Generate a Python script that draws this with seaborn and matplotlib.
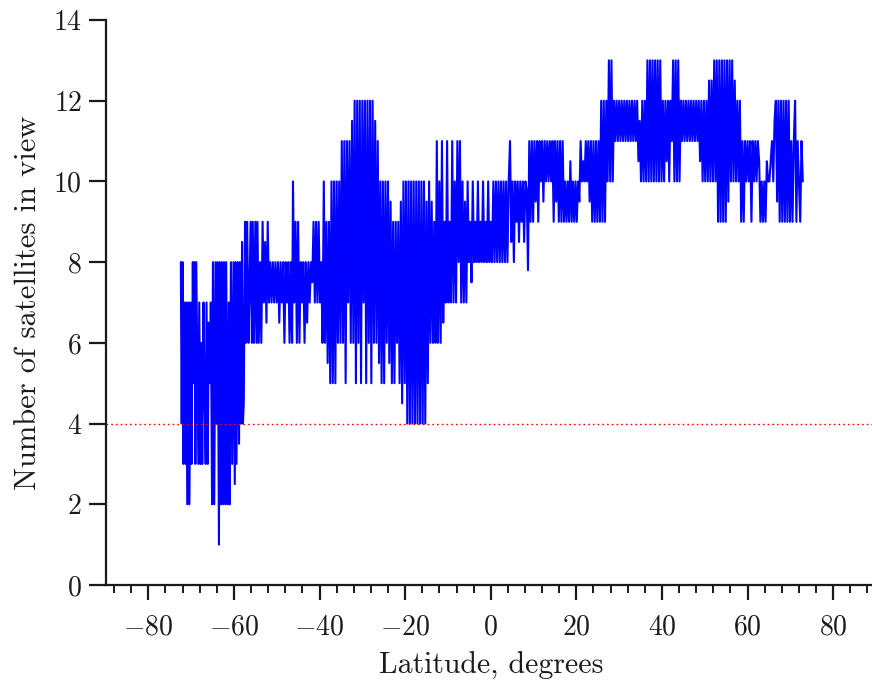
import numpy as np
import pandas as pd
import matplotlib
matplotlib.use("Agg")
import matplotlib.pyplot as plt
from matplotlib.ticker import MultipleLocator
import seaborn as sns

# ---------------- data ----------------
lat_s1 = [-72.4, -72.2, -72.0, -71.8, -71.6, -71.3, -71.1, -70.9, -70.6, -70.4,
          -70.1, -69.9, -69.6, -69.4, -69.2, -69.0, -68.8, -68.6, -68.3, -68.1,
          -67.8, -67.6, -67.4, -67.1, -66.9, -66.6, -66.4, -66.1, -65.9, -65.6,
          -65.4, -65.1, -64.9, -64.6, -64.3, -64.0, -63.8, -63.5, -63.3, -63.0,
          -62.8, -62.5, -62.3, -62.0, -61.8, -61.5, -61.2, -61.0, -60.7, -60.4,
          -60.1, -59.8, -59.6, -59.4, -59.1, -58.8, -58.6, -58.3, -58.1, -57.9,
          -57.7, -57.4, -57.2, -56.9, -56.6, -56.4, -56.1, -55.8, -55.6, -55.3,
          -55.0, -54.7, -54.5, -54.2, -53.9, -53.6, -53.3, -53.0, -52.7, -52.4,
          -52.1, -51.8, -51.5, -51.2, -50.9, -50.6, -50.3, -50.0, -49.7, -49.4,
          -49.1, -48.8, -48.5, -48.2, -47.9, -47.6, -47.3, -47.0, -46.7, -46.4,
          -46.2, -45.9, -45.6, -45.3, -45.0, -44.7, -44.4, -44.1, -43.8]
sats_s1 = [8, 4, 8, 3, 7, 3, 7, 2, 7, 2,
           7, 3, 8, 5, 8, 3, 8, 6, 3, 7,
           3, 6, 3, 7, 5, 3, 7, 3, 6.5, 5,
           7, 2, 8, 2, 8, 4, 8, 1, 8, 2,
           8, 2, 8, 2, 8, 2, 7, 2, 8, 3,
           8, 2.5, 8, 3, 8, 3.5, 8, 4, 8.5, 4,
           4.5, 9, 6, 9, 6, 7, 9, 6, 9, 6,
           9, 6, 9, 6, 8, 6, 9, 7, 8.5, 6.5,
           9, 7, 8, 7, 8, 7, 8, 7, 8, 6.5,
           8, 7, 8, 6, 8, 7, 8, 6, 8, 6,
           10, 7, 9, 6, 9, 6, 8, 7, 8]

lat_s2 = [-43.5, -43.2, -42.9, -42.6, -42.3, -42.0, -41.7, -41.4, -41.1, -40.8,
          -40.5, -40.2, -39.9, -39.6, -39.3, -39.0, -38.7, -38.4, -38.1, -37.8,
          -37.5, -37.2, -36.9, -36.6, -36.3, -36.0, -35.7, -35.4, -35.1, -34.8,
          -34.5, -34.2, -33.9, -33.6, -33.3, -33.0, -32.7, -32.4, -32.1, -31.8,
          -31.5, -31.2, -30.9, -30.6, -30.3, -30.0, -29.7, -29.4, -29.1, -28.8,
          -28.5, -28.2, -27.9, -27.6, -27.3, -27.0, -26.7, -26.4, -26.1, -25.8,
          -25.5, -25.2, -24.9, -24.6, -24.3, -24.0, -23.7, -23.4, -23.1, -22.8,
          -22.5, -22.2, -21.9, -21.6, -21.3, -21.0, -20.7, -20.4, -20.1, -19.8,
          -19.5, -19.2, -18.9, -18.6, -18.3, -18.0, -17.7, -17.4, -17.1, -16.8,
          -16.5, -16.2, -15.9, -15.6, -15.3, -15.0, -14.7]
sats_s2 = [6, 8, 6.5, 8, 7, 8, 7.5, 9, 7, 9,
           7, 9, 7, 8, 6, 10, 6, 9, 5.5, 9,
           5, 10, 5, 10, 5, 10, 6, 10, 6, 11,
           6, 11, 5, 11, 7, 11, 6, 11.5, 6, 12,
           5, 12, 6, 12, 5, 12, 7, 12, 5, 12,
           6, 12, 5, 12, 6, 11.5, 6, 11, 5.5, 10,
           5, 10, 5, 10, 6, 10, 5.5, 9.5, 5, 9,
           5, 9, 6, 9, 5, 9.5, 4.5, 10, 5, 10,
           4, 10, 4, 10, 4, 10, 4, 10, 4, 10,
           4, 10, 4, 10, 4, 9.5, 5]

lat_s3 = [-14.4, -14.1, -13.8, -13.5, -13.2, -12.9, -12.6, -12.3, -12.0, -11.7,
          -11.4, -11.1, -10.8, -10.5, -10.2, -9.9, -9.6, -9.3, -9.0, -8.7,
          -8.4, -8.1, -7.8, -7.5, -7.2, -6.9, -6.6, -6.3, -6.0, -5.7,
          -5.4, -5.1, -4.8, -4.5, -4.2, -3.9, -3.6, -3.3, -3.0, -2.7,
          -2.4, -2.1, -1.8, -1.5, -1.2, -0.9, -0.6, -0.3, 0.0, 0.3,
          0.6, 0.9, 1.2, 1.5, 1.8, 2.1, 2.4, 2.7, 3.0, 3.3,
          3.6, 3.9, 4.2, 4.5, 4.8, 5.1, 5.4, 5.7, 6.0, 6.3,
          6.6, 6.9, 7.2, 7.5, 7.8, 8.1, 8.4, 8.7, 9.0, 9.3,
          9.6, 9.9, 10.2, 10.5, 10.8, 11.1, 11.4, 11.7, 12.0, 12.3,
          12.6, 12.9, 13.2, 13.5, 13.8]
sats_s3 = [10, 6, 9.5, 6, 9, 6, 11, 6, 10, 6,
           11, 6.5, 9, 7, 11, 7, 9, 7, 11, 7,
           10, 7, 11, 8, 11, 7, 10, 7, 9.5, 7,
           10, 8, 9, 7.5, 10, 8, 9, 8, 10, 8,
           9, 8, 10, 8, 9, 8, 10, 8, 9, 8,
           10, 8, 10, 8, 10, 8, 10, 8, 10, 8,
           10, 8, 10, 11, 8.5, 10, 8, 10, 9, 10,
           8.5, 10, 9, 10, 8.5, 10, 9.8, 7.8, 11, 9,
           11, 9, 11, 9.5, 11, 9, 11, 10, 11, 9.5,
           11, 10, 11, 10, 11]

lat_s4 = [14.1, 14.4, 14.7, 15.0, 15.3, 15.6, 15.9, 16.2, 16.5, 16.8,
          17.1, 17.4, 17.7, 18.0, 18.3, 18.6, 18.9, 19.2, 19.5, 19.8,
          20.1, 20.4, 20.7, 21.0, 21.3, 21.6, 21.9, 22.2, 22.5, 22.8,
          23.1, 23.4, 23.7, 24.0, 24.3, 24.6, 24.9, 25.2, 25.5, 25.8,
          26.1, 26.4, 26.7, 27.0, 27.3, 27.6, 27.9, 28.2, 28.5, 28.8,
          29.1, 29.4, 29.7, 30.0, 30.3, 30.6, 30.9, 31.2, 31.5, 31.8,
          32.1, 32.4, 32.7, 33.0, 33.3, 33.6, 33.9, 34.2, 34.5, 34.8,
          35.1, 35.4, 35.7, 36.0, 36.3, 36.6, 36.9, 37.2, 37.5, 37.8,
          38.1, 38.4, 38.7, 39.0, 39.3, 39.6, 39.9, 40.2, 40.5, 40.8,
          41.1, 41.4, 41.7, 42.0, 42.3, 42.6, 42.9]
sats_s4 = [10, 11, 9, 11, 9.5, 11, 9, 11, 9, 11,
           9, 10, 9, 10, 9, 10.5, 9, 10, 9, 10,
           9, 10, 9.5, 11, 10, 10.5, 10, 11, 10, 11,
           9.5, 11, 9, 11, 9, 11, 9, 11, 9, 12,
           9, 12, 9, 12, 10, 13, 10, 13, 10, 12,
           11, 12, 11, 12, 11, 12, 11, 12, 11, 12,
           11, 12, 11, 12, 11, 12, 11, 12, 10.5, 11.5,
           10, 12, 10, 12, 10, 13, 10, 13, 10, 13,
           10, 13, 10, 13, 10, 13, 10, 12, 10, 12,
           10.5, 12, 10, 12, 11, 13, 10]

lat_s5 = [43.2, 43.5, 43.8, 44.1, 44.4, 44.7, 45.0, 45.3, 45.6, 45.9,
          46.2, 46.5, 46.8, 47.1, 47.4, 47.7, 48.0, 48.3, 48.6, 48.9,
          49.2, 49.5, 49.8, 50.1, 50.4, 50.7, 51.0, 51.3, 51.6, 51.9,
          52.2, 52.5, 52.8, 53.1, 53.4, 53.7, 54.0, 54.3, 54.6, 54.9,
          55.2, 55.5, 55.8, 56.1, 56.4, 56.7, 57.0, 57.3, 57.6, 57.9,
          58.2, 58.5, 58.8, 59.1, 59.4, 59.7, 60.0, 60.3, 60.6, 60.9,
          61.2, 61.5, 61.8, 62.1, 62.4, 62.7, 63.0, 63.3, 63.6, 63.9,
          64.2, 64.5, 64.8, 65.1, 65.4, 65.7, 66.0, 66.3, 66.6, 66.9,
          67.2, 67.5, 67.8, 68.1, 68.4, 68.7, 69.0, 69.3, 69.6, 69.9,
          70.2, 70.5, 70.8, 71.1, 71.4, 71.7, 72.0, 72.3, 72.6, 72.9]
sats_s5 = [13, 10, 13, 10, 12, 11, 12, 11, 12, 11,
           12, 11, 12, 11, 12, 11, 12, 11, 12, 10.5,
           12, 10, 12, 10, 12, 10, 12.5, 10, 12.5, 10,
           13, 10, 13, 9, 13, 9, 13, 9, 13, 9,
           13, 9.5, 13, 10, 13, 10, 12.5, 10, 12, 10,
           12, 9, 11, 9, 11, 10, 11, 10, 11, 9,
           11, 10, 11, 10, 11, 10.5, 9, 10, 9, 10,
           9, 10.5, 10, 10, 10.5, 11, 10, 11.5, 12, 9.5,
           12, 9, 12, 9, 12, 9, 12, 9, 12, 9,
           11, 9, 11, 12, 9, 11, 10, 9, 11, 10]

threshold = 4

x_ticks = [-80, -60, -40, -20, 0, 20, 40, 60, 80]
y_ticks = [0, 2, 4, 6, 8, 10, 12, 14]

# ---------------- build table ----------------
lat = lat_s1 + lat_s2 + lat_s3 + lat_s4 + lat_s5
sats = sats_s1 + sats_s2 + sats_s3 + sats_s4 + sats_s5
df = pd.DataFrame({"lat": lat, "sats": sats})

# ---------------- style ----------------
sns.set_theme(style="ticks")
plt.rcParams.update({
    "font.family": "cmr10",
    "mathtext.fontset": "cm",
    "axes.formatter.use_mathtext": True,
    "axes.unicode_minus": True,
    "axes.edgecolor": "#1a1a1a",
    "xtick.color": "#1a1a1a",
    "ytick.color": "#1a1a1a",
    "text.color": "#1a1a1a",
    "axes.labelcolor": "#1a1a1a",
})

W, H = 872, 688
fig = plt.figure(figsize=(W / 100, H / 100), dpi=100)
ax = fig.add_axes([105.5 / W, (H - 585) / H, (876 - 105.5) / W, (585 - 20) / H])

sns.lineplot(data=df, x="lat", y="sats", sort=False, estimator=None,
             color="#0000ff", lw=1.5, ax=ax, legend=False)
ax.axhline(threshold, color="red", lw=1.0, ls=(0, (1.2, 2.2)))

ax.set_xlim(-90, 90)
ax.set_ylim(0, 14)
ax.set_xticks(x_ticks)
ax.set_yticks(y_ticks)
ax.xaxis.set_minor_locator(MultipleLocator(4))

for s in ["top", "right"]:
    ax.spines[s].set_visible(False)
for s in ["left", "bottom"]:
    ax.spines[s].set_linewidth(1.6)

ax.tick_params(axis="x", which="major", length=11, width=1.6, direction="out",
               labelsize=20, pad=10)
ax.tick_params(axis="x", which="minor", length=5.5, width=1.4, direction="out")
ax.tick_params(axis="y", which="major", length=12, width=1.6, direction="out",
               labelsize=20, pad=5)

ax.set_xlabel("Latitude, degrees", fontsize=21.5, labelpad=8)
ax.set_ylabel("Number of satellites in view", fontsize=22, labelpad=8)

fig.savefig("out.png", dpi=100)
